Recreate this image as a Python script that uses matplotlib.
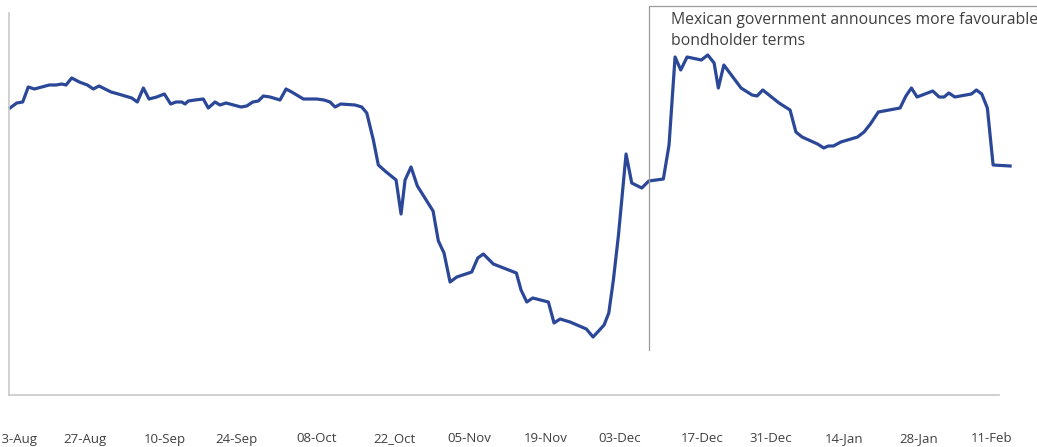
import matplotlib.pyplot as plt

# trading-day position and price
day_pos = [
    0.0, 0.89, 1.68, 2.42, 3.22, 4.2, 5.2, 6.09, 6.85, 7.42,
    8.17, 9.18, 10.24, 11.03, 11.79, 12.58, 13.38, 14.34, 15.23, 16.12,
    16.86, 17.66, 18.41, 19.43, 20.44, 21.28, 21.99, 22.74, 23.18, 23.62,
    24.5, 25.6, 26.26, 27.15, 27.81, 28.61, 29.58, 30.6, 31.35, 32.15,
    32.89, 33.55, 34.44, 35.76, 36.56, 37.31, 38.19, 38.85, 40.62, 41.59,
    42.38, 43.05, 43.8, 45.7, 46.58, 47.25, 48.12, 48.78, 49.67, 51.13,
    51.79, 52.32, 53.11, 53.95, 56.03, 56.73, 57.48, 58.28, 59.17, 61.15,
    61.95, 62.69, 64.01, 67.06, 67.68, 68.44, 69.23, 71.3, 72.05, 72.85,
    74.17, 76.33, 77.22, 78.68, 79.3, 79.91, 80.57, 81.59, 82.34, 83.67,
    84.6, 86.53, 87.28, 88.08, 88.83, 89.67, 91.56, 92.41, 93.25, 93.81,
    94.54, 96.82, 98.28, 98.94, 99.69, 101.85, 103.31, 104.08, 104.9, 106.95,
    107.77, 108.38, 109.05, 110.04, 112.25, 113.11, 113.95, 115.0, 117.88, 118.65,
    119.38, 120.13, 122.21, 123.05, 123.71, 124.33, 125.13, 127.32, 127.99, 128.7,
    129.44, 130.2, 132.45,
]
price = [
    94.9, 95.4, 95.5, 97.0, 96.8, 97.0, 97.2, 97.2, 97.3, 97.2,
    97.9, 97.5, 97.2, 96.8, 97.1, 96.8, 96.5, 96.3, 96.1, 95.9,
    95.5, 96.9, 95.8, 96.0, 96.3, 95.3, 95.5, 95.5, 95.3, 95.6,
    95.7, 95.8, 94.9, 95.5, 95.2, 95.4, 95.2, 95.0, 95.1, 95.5,
    95.6, 96.1, 96.0, 95.7, 96.8, 96.5, 96.1, 95.8, 95.8, 95.7,
    95.5, 95.0, 95.3, 95.2, 95.0, 94.4, 91.7, 89.2, 88.6, 87.7,
    84.3, 87.7, 89.0, 87.1, 84.6, 81.6, 80.4, 77.5, 78.0, 78.5,
    79.9, 80.3, 79.3, 78.4, 76.7, 75.5, 75.9, 75.5, 73.4, 73.8,
    73.5, 72.8, 72.0, 73.2, 74.4, 77.7, 82.1, 90.3, 87.4, 86.9,
    87.6, 87.8, 91.2, 100.0, 98.7, 100.0, 99.7, 100.2, 99.4, 96.9,
    99.2, 96.9, 96.2, 96.1, 96.7, 95.4, 94.7, 92.5, 92.0, 91.3,
    90.9, 91.1, 91.1, 91.5, 92.0, 92.5, 93.3, 94.5, 94.9, 96.1,
    96.9, 96.0, 96.6, 96.0, 96.0, 96.4, 96.0, 96.3, 96.7, 96.3,
    94.9, 89.2, 89.1,
]
tick_pos = [0.8, 9.9, 20.5, 30.0, 40.6, 50.9, 60.8, 70.9, 80.8, 91.7, 100.8, 110.5, 120.3, 130.0]
tick_labels = ["13-Aug", "27-Aug", "10-Sep", "24-Sep", "08-Oct", "22_Oct", "05-Nov",
               "19-Nov", "03-Dec", "17-Dec", "31-Dec", "14-Jan", "28-Jan", "11-Feb"]
event_pos = 84.68
event_text = "Mexican government announces more favourable\nbondholder terms"

plt.rcParams["font.family"] = ["Open Sans", "DejaVu Sans"]

fig = plt.figure(figsize=(10.37, 4.47), dpi=100)
ax = fig.add_axes([8.5 / 1037, 52 / 447, (1015 - 8.5) / 1037, 382 / 447])

ax.plot(day_pos, price, color="#2B4797", lw=2.3, solid_joinstyle="round", clip_on=False)

ax.set_xlim(-0.2, 133.1)
ax.set_ylim(66.2, 104.4)

# event marker: vertical line plus top bar running off the right edge
ax.plot([event_pos, event_pos, 140], [70.7, 105.1, 105.1], color="#9a9a9a", lw=0.9, clip_on=False)
ax.text(87.5, 104.5, event_text, fontsize=11.3, color="#404040", va="top", ha="left",
        linespacing=1.4, clip_on=False)

for side in ["top", "right"]:
    ax.spines[side].set_visible(False)
ax.spines["left"].set_color("#c8c8c8")
ax.spines["bottom"].set_color("#c8c8c8")
ax.spines["left"].set_linewidth(1.2)
ax.spines["bottom"].set_linewidth(1.2)
ax.spines["bottom"].set_bounds(-0.2, 131.0)

ax.set_yticks([])
ax.set_xticks(tick_pos)
ax.set_xticklabels(tick_labels, fontsize=9.5, color="#404040")
ax.tick_params(axis="x", length=0, pad=27)

fig.savefig("out.png", dpi=100)
